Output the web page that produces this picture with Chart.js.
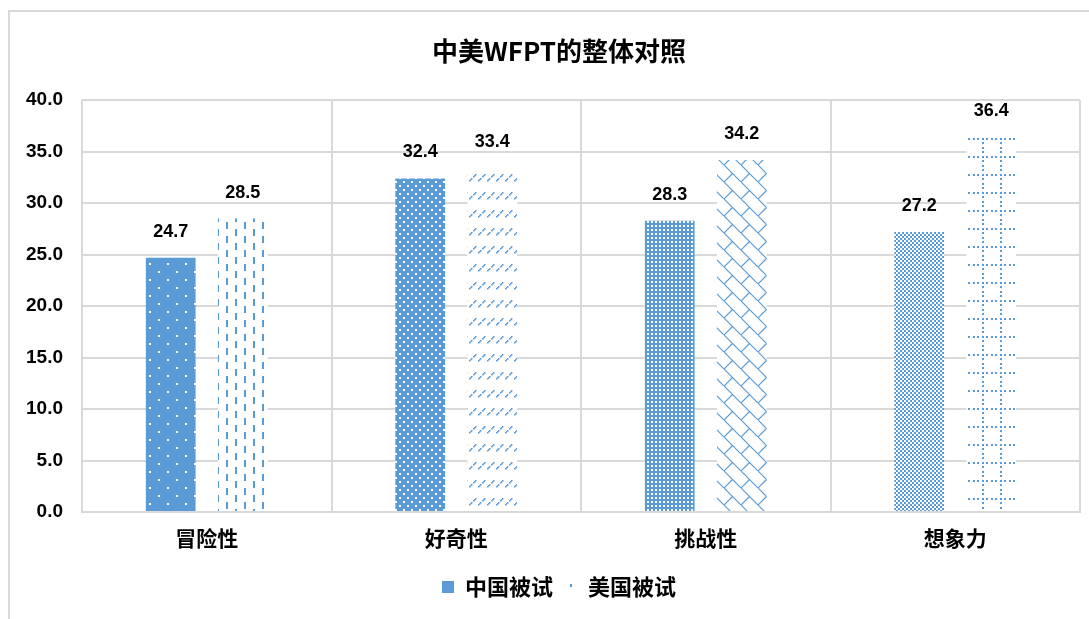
<!DOCTYPE html>
<html>
<head>
<meta charset="utf-8">
<script src="https://cdn.jsdelivr.net/npm/chart.js@4/dist/chart.umd.min.js"></script>
<style>
  html, body { margin: 0; padding: 0; background: #fff; overflow: hidden; }
  #frame {
    position: absolute; left: 8px; top: 10px;
    width: 1100px; height: 640px;
    border: 2px solid #d9d9d9;
  }
  #c { position: absolute; left: 0; top: 0; }
</style>
</head>
<body>
<div id="frame"><canvas id="c" width="1098" height="612"></canvas></div>
<script>
const categories = ["冒险性", "好奇性", "挑战性", "想象力"];
const seriesNames = ["中国被试", "美国被试"];
const chinaValues = [24.7, 32.4, 28.3, 27.2];
const usaValues = [28.5, 33.4, 34.2, 36.4];
const yTicks = [0, 5, 10, 15, 20, 25, 30, 35, 40];

const BLUE = "#5B9BD5";
const FONT = "'Liberation Sans', Arial, 'Noto Sans CJK SC', sans-serif";
const CJK = "'Noto Sans CJK SC', 'Liberation Sans', sans-serif";

const canvas = document.getElementById("c");
const mainCtx = canvas.getContext("2d");

function makePattern(w, h, bg, draw) {
  const tile = document.createElement("canvas");
  tile.width = w;
  tile.height = h;
  const t = tile.getContext("2d");
  t.fillStyle = bg;
  t.fillRect(0, 0, w, h);
  t.fillStyle = BLUE;
  t.strokeStyle = BLUE;
  draw(t);
  return mainCtx.createPattern(tile, "repeat");
}

// china bars: blue with white marks
const cnPatterns = [
  makePattern(18, 16, BLUE, t => {
    t.fillStyle = "#fff";
    t.fillRect(4, 3, 2, 2);
    t.fillRect(13, 11, 2, 2);
  }),
  makePattern(8, 8, BLUE, t => {
    t.fillStyle = "#fff";
    t.fillRect(1, 1, 2, 2);
    t.fillRect(5, 5, 2, 2);
  }),
  makePattern(4, 4, BLUE, t => {
    t.fillStyle = "#fff";
    t.fillRect(1, 1, 2, 2);
  }),
  makePattern(4, 4, "#fff", t => {
    t.fillRect(0, 0, 2, 2);
    t.fillRect(2, 2, 2, 2);
  })
];

// usa bars: blue marks on white
const usPatterns = [
  makePattern(18, 14, "#fff", t => {
    t.fillRect(0, 0, 2, 7);
    t.fillRect(9, 7, 2, 7);
  }),
  makePattern(9, 18, "#fff", t => {
    for (let i = 0; i < 7; i++) {
      if (i === 3) continue;
      t.fillRect(i, 6 - i, 1.5, 1.5);
    }
  }),
  makePattern(17, 17, "#fff", t => {
    t.lineWidth = 1.2;
    t.beginPath();
    t.moveTo(-1, -1);
    t.lineTo(18, 18);
    t.moveTo(0, 17);
    t.lineTo(8.5, 8.5);
    t.stroke();
  }),
  makePattern(18, 18, "#fff", t => {
    [0, 4, 9, 13].forEach(p => {
      t.fillRect(0, p, 2, 2);
      t.fillRect(p, 0, 2, 2);
    });
  })
];

const valueLabels = {
  id: "valueLabels",
  afterDatasetsDraw(chart) {
    const ctx = chart.ctx;
    ctx.save();
    ctx.font = "bold 18px " + FONT;
    ctx.fillStyle = "#000";
    ctx.textAlign = "center";
    ctx.textBaseline = "middle";
    chart.data.datasets.forEach((ds, di) => {
      chart.getDatasetMeta(di).data.forEach((bar, i) => {
        ctx.fillText(ds.data[i].toFixed(1), bar.x, bar.y - 26);
      });
    });
    ctx.restore();
  },
  afterDraw(chart) {
    // the american legend box shows just a tiny blue mark
    const legend = chart.legend;
    if (!legend || !legend.legendHitBoxes[1]) return;
    const box = legend.legendHitBoxes[1];
    const ctx = chart.ctx;
    ctx.save();
    ctx.fillStyle = BLUE;
    ctx.fillRect(box.left + 5, box.top + box.height / 2 - 3, 2, 3);
    ctx.restore();
  }
};

new Chart(canvas, {
  type: "bar",
  data: {
    labels: categories,
    datasets: [
      {
        label: seriesNames[0],
        data: chinaValues,
        backgroundColor: cnPatterns,
        borderWidth: 0,
        categoryPercentage: 0.578,
        barPercentage: 0.69
      },
      {
        label: seriesNames[1],
        data: usaValues,
        backgroundColor: usPatterns,
        borderWidth: 0,
        categoryPercentage: 0.578,
        barPercentage: 0.69
      }
    ]
  },
  options: {
    responsive: false,
    animation: false,
    layout: { padding: { left: 0, right: 0, top: 0, bottom: 16 } },
    scales: {
      x: {
        grid: { color: "#d9d9d9", lineWidth: 2, drawTicks: false, offset: true },
        border: { color: "#d9d9d9", width: 2 },
        ticks: {
          color: "#000",
          padding: 13,
          font: { family: CJK, size: 21, weight: "bold" }
        },
        afterFit: scale => { scale.height = 52; }
      },
      y: {
        min: 0,
        max: 40,
        afterBuildTicks: scale => {
          scale.ticks = yTicks.map(v => ({ value: v }));
        },
        grid: { color: "#d9d9d9", lineWidth: 2, drawTicks: false },
        border: { color: "#d9d9d9", width: 2 },
        ticks: {
          color: "#000",
          padding: 19,
          font: { family: FONT, size: 19, weight: "bold" },
          callback: value => Number(value).toFixed(1)
        },
        afterFit: scale => { scale.width = 72; }
      },
      // empty space on the right so the title stays centred on the whole frame
      spacer: {
        type: "linear",
        position: "right",
        grid: { display: false },
        border: { display: false },
        ticks: { display: false },
        afterFit: scale => { scale.width = 28; }
      }
    },
    plugins: {
      title: {
        display: true,
        text: "中美WFPT的整体对照",
        color: "#000",
        font: { family: CJK, size: 26, weight: "bold" },
        padding: { top: 24, bottom: 33 }
      },
      legend: {
        position: "bottom",
        labels: {
          color: "#000",
          boxWidth: 12,
          boxHeight: 12,
          padding: 12,
          font: { family: CJK, size: 22, weight: "bold" },
          generateLabels: () => [
            { text: seriesNames[0], fillStyle: BLUE, strokeStyle: BLUE, lineWidth: 0, datasetIndex: 0 },
            { text: seriesNames[1], fillStyle: "rgba(0,0,0,0)", strokeStyle: "rgba(0,0,0,0)", lineWidth: 0, datasetIndex: 1 }
          ]
        }
      },
      tooltip: { enabled: false }
    }
  },
  plugins: [valueLabels]
});
</script>
</body>
</html>
